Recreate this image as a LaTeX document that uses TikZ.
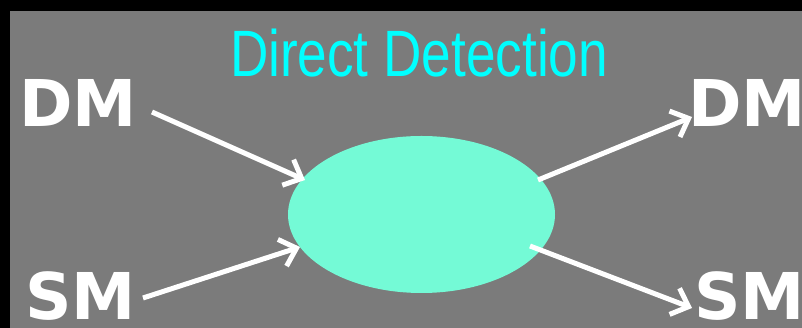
\documentclass[tikz,border=0pt]{standalone}
\usepackage{fontspec}
\usetikzlibrary{arrows.meta,shapes.geometric}
\newfontfamily\titlefont[FakeStretch=0.81]{Liberation Sans}
\newfontfamily\lblfont{DejaVu Sans}
\definecolor{bggrey}{RGB}{123,123,123}
\definecolor{blobcol}{RGB}{116,250,214}
\definecolor{titlecyan}{RGB}{0,255,255}
\tikzset{
  lbl/.style={text=white, inner sep=0pt, anchor=base west, font=\lblfont\bfseries\fontsize{64.5}{70}\selectfont},
  arr/.style={draw=white, line width=5pt, -{Straight Barb[length=15pt,width=28pt]}},
  blob/.style={ellipse, fill=blobcol, minimum width=267pt, minimum height=157pt, inner sep=0pt}
}
\begin{document}
\begin{tikzpicture}[x=1pt,y=1pt]
\useasboundingbox (0,0) rectangle (802,328);
\fill[black] (0,0) rectangle (802,328);
\fill[bggrey] (10,0) rectangle (802,317);
\node[text=titlecyan, inner sep=0pt, anchor=base, font=\titlefont\fontsize{65.6}{70}\selectfont] (title) at (419,251) {Direct Detection};
\node[blob] (ell) at (421.5,113.5) {};
\node[lbl] (dmL) at (19,201) {DM};
\node[lbl] (smL) at (25,8) {SM};
\node[lbl] (dmR) at (688,201) {DM};
\node[lbl] (smR) at (694,8) {SM};
\coordinate (a1s) at (152,216);
\coordinate (a1e) at (305,148);
\coordinate (a2s) at (143,30);
\coordinate (a2e) at (300,81);
\coordinate (a3s) at (538,148);
\coordinate (a3e) at (692,211);
\coordinate (a4s) at (530,82);
\coordinate (a4e) at (692,20);
\draw[arr] (a1s) -- (a1e);
\draw[arr] (a2s) -- (a2e);
\draw[arr] (a3s) -- (a3e);
\draw[arr] (a4s) -- (a4e);
\end{tikzpicture}
\end{document}
